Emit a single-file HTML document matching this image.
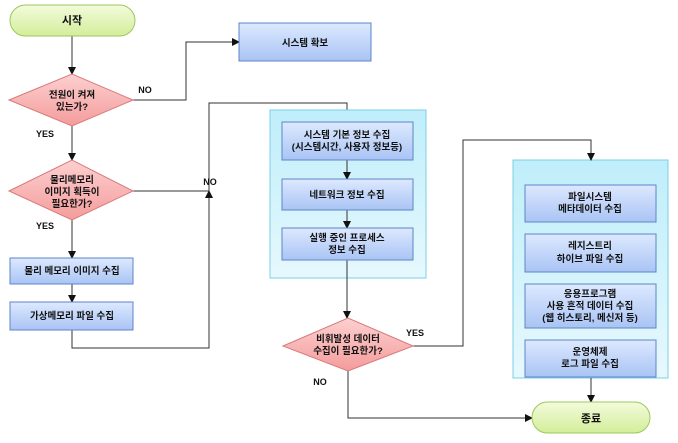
<!DOCTYPE html>
<html><head><meta charset="utf-8"><style>
body{margin:0;background:#fff;}
svg text{font-family:"Liberation Sans","Noto Sans CJK KR",sans-serif;font-size:9.5px;font-weight:bold;fill:#111;text-anchor:middle;}
</style></head><body>
<svg width="678" height="438" viewBox="0 0 678 438" xmlns="http://www.w3.org/2000/svg">
<defs>
<linearGradient id="g" x1="0" y1="0" x2="0" y2="1"><stop offset="0" stop-color="#f4fbdc"/><stop offset="1" stop-color="#d2ee9a"/></linearGradient>
<linearGradient id="r" x1="0" y1="0" x2="0" y2="1"><stop offset="0" stop-color="#fdd0d0"/><stop offset="1" stop-color="#f49c9c"/></linearGradient>
<linearGradient id="b" x1="0" y1="0" x2="0" y2="1"><stop offset="0" stop-color="#dde9ff"/><stop offset="1" stop-color="#a9c4f4"/></linearGradient>
<linearGradient id="c" x1="0" y1="0" x2="0" y2="1"><stop offset="0" stop-color="#bfeefa"/><stop offset="1" stop-color="#e6f8fd"/></linearGradient>
<marker id="a" markerWidth="8" markerHeight="8" refX="7" refY="4" orient="auto" markerUnits="userSpaceOnUse"><path d="M0,0 L8,4 L0,8z" fill="#111"/></marker>
</defs>
<g fill="none" stroke="#333" stroke-width="1">
<path d="M72 36 V74" marker-end="url(#a)"/>
<path d="M72 126 V160" marker-end="url(#a)"/>
<path d="M72 220 V258" marker-end="url(#a)"/>
<path d="M72 284 V302" marker-end="url(#a)"/>
<path d="M133 100 H186 V42 H239" marker-end="url(#a)"/>
<path d="M72 330 V348 H209 V191" marker-end="url(#a)"/>
<path d="M133 191 H209 V103 H347 V122" marker-end="url(#a)"/>
</g>
<rect x="270" y="110" width="156" height="168" fill="url(#c)" stroke="#7ccfe6"/>
<rect x="513" y="160" width="155" height="218" fill="url(#c)" stroke="#7ccfe6"/>
<g fill="none" stroke="#333" stroke-width="1">
<path d="M347 160 V179" marker-end="url(#a)"/>
<path d="M347 210 V228" marker-end="url(#a)"/>
<path d="M347 260 V318" marker-end="url(#a)"/>
<path d="M413 346 H463 V140 H591 V160" marker-end="url(#a)"/>
<path d="M348 371 V418 H532" marker-end="url(#a)"/>
<path d="M591 378 V402" marker-end="url(#a)"/>
</g>
<rect x="10" y="5" width="125" height="31" rx="15.5" fill="url(#g)" stroke="#9cc85a"/>
<rect x="532" y="402" width="118" height="31" rx="15.5" fill="url(#g)" stroke="#9cc85a"/>
<polygon points="9,100 72,74 133,100 72,126" fill="url(#r)" stroke="#d87a7a"/>
<polygon points="9,191 72,160 133,191 72,220" fill="url(#r)" stroke="#d87a7a"/>
<polygon points="283,346 348,318 413,346 348,371" fill="url(#r)" stroke="#d87a7a"/>
<g fill="url(#b)" stroke="#5d85c8">
<rect x="239" y="23" width="132" height="38"/>
<rect x="10" y="258" width="123" height="26"/>
<rect x="10" y="302" width="123" height="28"/>
<rect x="282" y="122" width="131" height="38"/>
<rect x="282" y="179" width="131" height="31"/>
<rect x="282" y="228" width="131" height="32"/>
<rect x="525" y="185" width="131" height="37"/>
<rect x="525" y="234" width="131" height="38"/>
<rect x="525" y="284" width="131" height="44"/>
<rect x="525" y="340" width="131" height="37"/>
</g>
<text x="72" y="24" style="font-size:11px">시작</text>
<text x="591" y="422" style="font-size:11px">종료</text>
<text x="72" y="98">전원이 켜져</text><text x="72" y="110">있는가?</text>
<text x="72" y="183">물리메모리</text><text x="72" y="195">이미지 획득이</text><text x="72" y="207">필요한가?</text>
<text x="348" y="342">비휘발성 데이터</text><text x="348" y="354">수집이 필요한가?</text>
<text x="305" y="46">시스템 확보</text>
<text x="72" y="274">물리 메모리 이미지 수집</text>
<text x="72" y="319">가상메모리 파일 수집</text>
<text x="347" y="138">시스템 기본 정보 수집</text><text x="347" y="150">(시스템시간, 사용자 정보등)</text>
<text x="347" y="198">네트워크 정보 수집</text>
<text x="347" y="241">실행 중인 프로세스</text><text x="347" y="253">정보 수집</text>
<text x="590" y="200">파일시스템</text><text x="590" y="212">메타데이터 수집</text>
<text x="590" y="249">레지스트리</text><text x="590" y="262">하이브 파일 수집</text>
<text x="590" y="297">응용프로그램</text><text x="590" y="309">사용 흔적 데이터 수집</text><text x="590" y="321">(웹 히스토리, 메신저 등)</text>
<text x="590" y="355">운영체제</text><text x="590" y="367">로그 파일 수집</text>
<text x="145" y="93" style="font-size:9px">NO</text>
<text x="45" y="137" style="font-size:9px">YES</text>
<text x="210" y="185" style="font-size:9px">NO</text>
<text x="45" y="229" style="font-size:9px">YES</text>
<text x="415" y="336" style="font-size:9px">YES</text>
<text x="320" y="385" style="font-size:9px">NO</text>
</svg>
</body></html>
